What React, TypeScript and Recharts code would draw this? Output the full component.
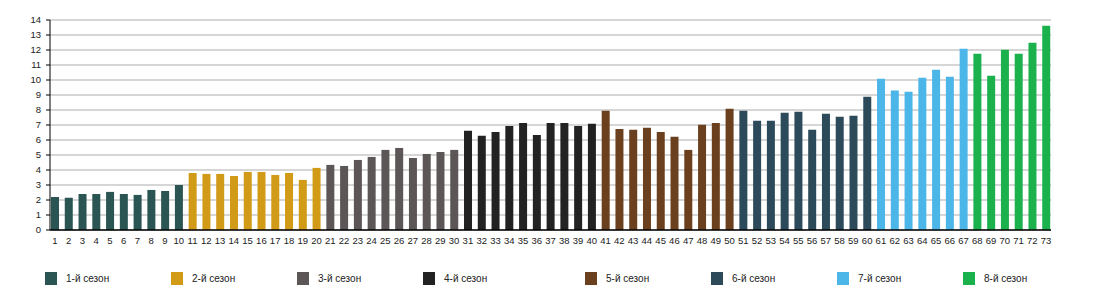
import { Bar, BarChart, CartesianGrid, Cell, XAxis, YAxis } from 'recharts';

const seasons = ['1-й сезон', '2-й сезон', '3-й сезон', '4-й сезон', '5-й сезон', '6-й сезон', '7-й сезон', '8-й сезон'];
const seasonColors = ['#2a5553', '#d19b17', '#5c5656', '#222222', '#6b401e', '#2d4a5a', '#4db6e8', '#1bb24e'];
const episodesPerSeason = [10, 10, 10, 10, 10, 10, 7, 6];

const ratings = [
  2.2, 2.15, 2.4, 2.4, 2.54, 2.4, 2.34, 2.67, 2.6, 3.0,
  3.8, 3.74, 3.74, 3.6, 3.87, 3.87, 3.67, 3.8, 3.34, 4.14,
  4.34, 4.27, 4.67, 4.87, 5.34, 5.47, 4.8, 5.07, 5.2, 5.34,
  6.61, 6.28, 6.54, 6.94, 7.14, 6.34, 7.14, 7.14, 6.94, 7.08,
  7.95, 6.74, 6.68, 6.81, 6.54, 6.21, 5.34, 7.01, 7.14, 8.08,
  7.95, 7.28, 7.28, 7.81, 7.88, 6.68, 7.75, 7.55, 7.61, 8.88,
  10.08, 9.3, 9.21, 10.15, 10.68, 10.22, 12.09,
  11.75, 10.28, 12.02, 11.75, 12.49, 13.62,
];

const yTicks = [0, 1, 2, 3, 4, 5, 6, 7, 8, 9, 10, 11, 12, 13, 14];

const seasonOf: number[] = episodesPerSeason.flatMap((n, s) => Array(n).fill(s));

const data = ratings.map((value, i) => ({
  episode: String(i + 1),
  value,
  season: seasonOf[i],
}));

const font = '"Liberation Sans", Arial, sans-serif';

export default function App() {
  return (
    <div style={{ position: 'absolute', left: 0, top: 0, width: 1100, height: 300, fontFamily: font }}>
      <BarChart
        width={1100}
        height={255}
        data={data}
        margin={{ top: 20, right: 49, bottom: 5, left: 0 }}
        barSize={8}
      >
        <CartesianGrid vertical={false} stroke="#adadad" strokeWidth={1} />
        <XAxis
          dataKey="episode"
          interval={0}
          axisLine={{ stroke: '#000', strokeWidth: 1.5 }}
          tickLine={false}
          tick={{ fontSize: 9.5, fill: '#222', fontFamily: font }}
          tickMargin={1}
          height={20}
          padding={{ left: -2, right: -2 }}
        />
        <YAxis
          width={50}
          domain={[0, 14]}
          ticks={yTicks}
          interval={0}
          axisLine={{ stroke: '#000', strokeWidth: 1 }}
          tickLine={{ stroke: '#000' }}
          tickSize={4}
          tickMargin={5}
          tick={{ fontSize: 9.5, fill: '#222', fontFamily: font }}
        />
        <Bar dataKey="value" isAnimationActive={false}>
          {data.map((d) => (
            <Cell key={d.episode} fill={seasonColors[d.season]} />
          ))}
        </Bar>
      </BarChart>
      {seasons.map((name, i) => (
        <div
          key={name}
          style={{
            position: 'absolute',
            top: 272,
            left: 45 + 126 * i + (i >= 4 ? 36 : 0),
            display: 'flex',
            alignItems: 'center',
            fontSize: 10,
            color: '#222',
          }}
        >
          <span style={{ width: 12, height: 13, background: seasonColors[i], display: 'inline-block' }} />
          <span style={{ marginLeft: 9 }}>{name}</span>
        </div>
      ))}
    </div>
  );
}
